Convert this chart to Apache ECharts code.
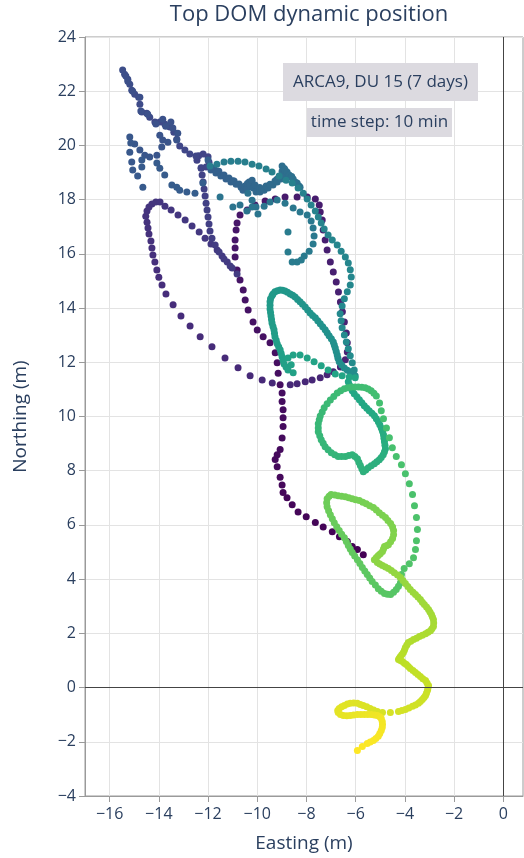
<!DOCTYPE html>
<html>
<head>
<meta charset="utf-8">
<script src="https://cdn.jsdelivr.net/npm/echarts@6/dist/echarts.min.js"></script>
<style>
  html, body { margin: 0; padding: 0; background: #ffffff; }
  #chart { width: 524px; height: 858px; }
</style>
</head>
<body>
<div id="chart"></div>
<script>
// Top DOM track, [easting, northing] in metres, in time order (one sample every 10 min)
const tailPts = [[-5.69,4.90],[-5.93,5.09],[-6.14,5.20],[-6.34,5.39],[-6.66,5.56],[-6.95,5.75],[-7.32,5.92],[-7.64,6.09],[-8.01,6.30],[-8.34,6.48],[-8.58,6.74],[-8.79,7.00],[-8.95,7.20],[-8.99,7.47],[-9.07,7.76],[-9.19,8.15],[-9.27,8.41],[-9.19,8.59],[-9.07,8.78],[-8.99,9.21],[-8.95,9.63],[-8.95,9.95],[-8.95,10.25],[-8.99,10.55],[-8.99,10.87],[-9.07,11.17],[-9.15,11.60]];
const darkLoop = [[-9.19,11.98],[-9.27,12.35],[-9.48,12.72],[-9.76,12.94],[-10.00,13.19],[-10.17,13.49],[-10.37,13.93],[-10.49,14.30],[-10.57,14.67],[-10.70,15.04],[-10.82,15.40],[-10.90,15.88],[-10.90,16.22],[-10.90,16.51],[-10.86,16.88],[-10.82,17.14],[-10.70,17.43],[-10.41,17.62],[-10.09,17.80],[-9.68,17.95],[-9.27,18.02],[-8.87,18.10],[-8.38,18.10],[-7.97,18.10],[-7.64,18.02],[-7.48,17.80],[-7.44,17.54],[-7.36,17.25],[-7.32,16.88],[-7.24,16.51],[-7.16,16.14],[-7.03,15.70],[-6.91,15.33],[-6.79,14.96],[-6.70,14.59],[-6.62,14.22],[-6.54,13.86],[-6.46,13.49],[-6.38,13.08],[-6.34,12.72],[-6.34,12.38],[-6.42,12.09],[-6.62,11.83],[-6.91,11.65],[-7.16,11.54],[-7.44,11.43],[-7.77,11.35],[-8.05,11.28],[-8.38,11.21],[-8.66,11.17],[-9.39,11.24]];
const westLoop = [[-9.80,11.35],[-10.29,11.50],[-10.78,11.80],[-11.31,12.16],[-11.84,12.57],[-12.32,12.94],[-12.73,13.34],[-13.10,13.71],[-13.42,14.12],[-13.71,14.52],[-13.87,14.85],[-14.00,15.14],[-14.08,15.40],[-14.16,15.70],[-14.24,15.96],[-14.28,16.22],[-14.32,16.47],[-14.40,16.73],[-14.44,16.95],[-14.48,17.17],[-14.53,17.39],[-14.48,17.58],[-14.40,17.73],[-14.28,17.84],[-14.12,17.91],[-13.95,17.91]];
const diagonal = [[-13.75,17.76],[-13.50,17.62],[-13.22,17.43],[-12.93,17.25],[-12.65,17.03],[-12.36,16.81],[-12.12,16.58],[-11.88,16.36],[-11.63,16.14],[-11.43,15.92],[-11.22,15.70],[-11.02,15.48],[-10.82,15.26]];
const climb = [[-11.10,15.55],[-11.35,15.81],[-11.55,16.07],[-11.71,16.33],[-11.84,16.58],[-11.92,16.84],[-11.96,17.10],[-12.00,17.36],[-12.04,17.62],[-12.08,17.87],[-12.12,18.13],[-12.16,18.39],[-12.20,18.65],[-12.24,18.91],[-12.28,19.16]];
const smallLoop = [[-12.45,19.45],[-12.38,19.62],[-12.20,19.68],[-12.00,19.58],[-11.96,19.38],[-12.08,19.20],[-12.28,19.18]];
const northCluster = [[-12.49,19.61],[-12.74,19.68],[-12.94,19.83],[-13.15,19.98],[-13.27,20.23],[-13.39,20.49],[-13.55,20.68],[-13.76,20.79],[-13.96,20.86],[-14.16,20.86],[-14.37,21.04],[-14.49,21.19],[-14.69,21.23],[-14.77,21.52],[-14.82,21.78],[-14.98,21.89],[-15.10,22.04],[-15.18,22.26],[-15.26,22.44],[-15.39,22.63],[-15.47,22.78],
  [-15.34,22.56],[-15.26,22.37],[-15.06,22.00],[-14.77,21.78],[-14.73,21.27],[-14.45,21.15],[-14.12,20.79],[-13.84,20.97],[-13.72,20.71],[-13.51,20.86],[-13.43,20.64],[-13.23,20.45],[-13.27,20.20],[-13.63,20.12],[-13.84,20.20],[-13.96,20.38],[-13.88,19.94],[-14.08,19.64],[-14.37,19.57],[-14.57,19.64],[-14.77,19.83],[-14.98,20.05],[-15.18,20.31],[-15.14,20.09],[-15.18,19.75],[-15.10,19.39],[-15.06,19.09],[-14.86,18.87],[-14.69,19.20],[-14.69,19.46],[-14.65,18.46],[-14.08,19.35],[-13.96,19.16],[-13.76,18.91],[-13.47,18.54],[-13.27,18.46],[-13.15,18.35],[-12.86,18.28],[-12.53,18.24],[-12.21,18.61],[-12.00,19.46]];
const zigzag = [[-11.88,19.09],[-11.76,19.16],[-11.68,18.98],[-11.60,19.05],[-11.56,19.05],[-11.48,18.87],[-11.35,18.91],[-11.27,18.76],[-11.15,18.80],[-11.07,18.65],[-11.00,18.70],[-10.94,18.69],[-10.86,18.57],[-10.74,18.58],[-10.66,18.46],[-10.58,18.35],[-10.50,18.50],[-10.42,18.43],[-10.40,18.60],[-10.33,18.65],[-10.29,18.54],[-10.21,18.72],[-10.17,18.43],[-10.09,18.54],[-10.05,18.28],[-9.97,18.35],[-9.90,18.45],[-9.89,18.28],[-9.80,18.39],[-9.72,18.35],[-9.64,18.50],[-9.56,18.43],[-9.48,18.57],[-9.36,18.54],[-9.28,18.69],[-9.20,18.75],[-9.19,18.65],[-9.11,18.83],[-9.03,18.76],[-8.99,19.05],[-8.91,18.91],[-8.99,19.24],[-8.90,19.15],[-8.87,19.09],[-8.79,19.02],[-8.70,18.91],[-8.62,18.83],[-8.60,18.85],[-8.54,18.76],[-8.46,18.65],[-8.38,18.61],[-8.30,18.50],[-8.26,18.46]];
const hook = [[-10.38,18.24],[-10.21,17.98],[-10.05,17.73],[-11.51,18.10],[-10.99,17.73],[-10.70,17.80],[-10.42,17.58],[-10.21,17.73],[-9.97,17.47],[-9.72,17.76],[-9.48,17.91],[-9.19,17.99],[-8.87,17.87],[-8.54,17.69],[-8.26,17.54],[-7.97,17.43],[-7.81,17.21],[-7.73,16.95],[-7.69,16.66],[-7.73,16.36],[-7.89,16.10],[-8.09,15.92],[-8.21,15.77],[-8.38,15.70],[-8.58,15.70],[-8.75,16.07],[-8.75,16.81]];
const arcTop = [[-11.92,19.24],[-11.64,19.31],[-11.35,19.39],[-11.07,19.42],[-10.78,19.42],[-10.50,19.39],[-10.21,19.31],[-9.93,19.24],[-9.64,19.13],[-9.40,19.02],[-9.11,18.87],[-8.83,18.72],[-8.58,18.61]];
const eastDescent = [[-8.34,18.43],[-8.13,18.24],[-7.97,18.02],[-7.81,17.80],[-7.64,17.58],[-7.52,17.36],[-7.40,17.14],[-7.28,16.92],[-7.12,16.70],[-6.95,16.51],[-6.75,16.33],[-6.59,16.10],[-6.42,15.88],[-6.30,15.66],[-6.22,15.41],[-6.18,15.15],[-6.22,14.85],[-6.34,14.60],[-6.46,14.34],[-6.55,14.08],[-6.63,13.79],[-6.59,13.53],[-6.55,13.27],[-6.46,13.01],[-6.38,12.75],[-6.30,12.50],[-6.22,12.24],[-6.14,11.98],[-6.06,11.72],[-6.02,11.50]];
const loopOne = [[-6.22,11.65],[-6.34,11.71],[-6.46,11.79],[-6.57,11.90],[-6.67,12.02],[-6.72,12.15],[-6.75,12.27],[-6.79,12.40],[-6.83,12.53],[-6.87,12.64],[-6.91,12.75],[-6.99,12.87],[-7.08,12.98],[-7.16,13.09],[-7.24,13.20],[-7.34,13.31],[-7.44,13.42],[-7.54,13.53],[-7.64,13.64],[-7.75,13.73],[-7.85,13.82],[-7.95,13.93],[-8.05,14.04],[-8.16,14.14],[-8.26,14.23],[-8.36,14.32],[-8.46,14.41],[-8.56,14.47],[-8.66,14.52],[-8.77,14.58],[-8.87,14.63],[-8.97,14.66],[-9.07,14.67],
  [-9.18,14.64],[-9.28,14.60],[-9.36,14.52],[-9.40,14.45],[-9.46,14.34],[-9.48,14.23],[-9.48,14.10],[-9.48,13.97],[-9.46,13.84],[-9.44,13.71],[-9.42,13.58],[-9.40,13.45],[-9.36,13.32],[-9.32,13.20],[-9.30,13.07],[-9.28,12.94],[-9.23,12.81],[-9.19,12.68],[-9.13,12.57],[-9.07,12.46],[-9.03,12.33],[-8.99,12.20],[-8.95,12.07],[-8.91,11.94],[-8.83,11.83],[-8.75,11.72],[-8.54,11.61],[-8.62,11.91],[-8.75,12.16],
  [-8.54,12.27],[-8.26,12.27],[-7.97,12.16],[-7.69,12.02],[-7.40,11.87],[-7.12,11.72],[-6.83,11.57],[-6.55,11.50],[-6.26,11.46],[-6.02,11.43]];
const loopTwo = [[-6.30,11.28],[-6.26,11.17],[-6.22,11.06],[-6.14,10.95],[-6.06,10.84],[-5.95,10.73],[-5.85,10.62],[-5.75,10.51],[-5.65,10.40],[-5.55,10.30],[-5.45,10.21],[-5.34,10.12],[-5.24,10.03],[-5.16,9.92],[-5.08,9.81],[-5.02,9.70],[-4.96,9.58],[-4.91,9.46],[-4.87,9.33],[-4.85,9.20],[-4.83,9.07],[-4.81,8.94],[-4.79,8.81],
  [-4.83,8.70],[-4.88,8.59],[-4.96,8.49],[-5.04,8.40],[-5.14,8.33],[-5.24,8.26],[-5.37,8.18],[-5.49,8.11],[-5.59,8.03],[-5.69,7.96],[-5.75,8.07],[-5.81,8.19],[-5.87,8.31],[-5.93,8.44],[-6.03,8.52],[-6.14,8.59],[-6.28,8.56],[-6.42,8.52],[-6.57,8.52],[-6.71,8.52],[-6.85,8.59],[-6.99,8.66],[-7.12,8.77],[-7.24,8.88],[-7.32,9.01],[-7.40,9.14],[-7.46,9.29],[-7.52,9.44],[-7.52,9.58],[-7.52,9.73],[-7.48,9.88],[-7.44,10.02],[-7.36,10.17],[-7.28,10.32],[-7.16,10.47],[-7.03,10.61],[-6.89,10.74],[-6.75,10.87],[-6.61,10.95],[-6.46,11.02],[-6.32,11.06],[-6.18,11.09],[-6.03,11.09],[-5.89,11.09],[-5.75,11.08],[-5.61,11.06],[-5.49,11.01],[-5.37,10.95],[-5.26,10.86],[-5.16,10.76]];
const eastDots = [[-5.03,10.50],[-4.96,10.21],[-4.87,9.92],[-4.75,9.58],[-4.63,9.22],[-4.51,8.85],[-4.35,8.52],[-4.14,8.22],[-3.98,7.89],[-3.82,7.52],[-3.69,7.12],[-3.61,6.71],[-3.53,6.27],[-3.49,5.83],[-3.53,5.42],[-3.57,5.09],[-3.65,4.79],[-3.82,4.57],[-4.03,4.39]];
const loopThree = [[-4.14,4.17],[-4.16,4.02],[-4.18,3.87],[-4.26,3.74],[-4.35,3.62],[-4.46,3.52],[-4.58,3.43],[-4.71,3.44],[-4.83,3.47],[-4.96,3.55],[-5.08,3.65],[-5.20,3.78],[-5.33,3.91],[-5.43,4.04],[-5.53,4.17],[-5.63,4.30],[-5.73,4.43],[-5.83,4.58],[-5.93,4.72],[-6.04,4.85],[-6.14,4.98],[-6.22,5.11],[-6.30,5.24],[-6.38,5.39],[-6.46,5.53],[-6.57,5.66],[-6.67,5.79],[-6.77,5.93],[-6.87,6.08],[-6.95,6.23],[-7.03,6.38],[-7.10,6.52],[-7.16,6.67],[-7.18,6.82],[-7.16,6.97],[-7.08,7.06],[-7.00,7.12],[-6.85,7.10],[-6.71,7.08],[-6.57,7.06],[-6.42,7.04],[-6.28,7.00],[-6.14,6.97],[-6.00,6.93],[-5.85,6.90],[-5.71,6.84],[-5.57,6.78],[-5.43,6.71],[-5.28,6.64],[-5.16,6.55],[-5.04,6.45],[-4.91,6.36],[-4.79,6.27],[-4.69,6.16],[-4.58,6.05],[-4.50,5.92],[-4.46,5.79],[-4.46,5.64],[-4.50,5.50],[-4.58,5.38],[-4.67,5.27],[-4.75,5.23],[-4.83,5.20],[-4.87,5.11],[-4.91,5.02],[-5.00,4.94],[-5.08,4.87],[-5.16,4.80],[-5.24,4.72]];
const southDescent = [[-5.12,4.61],[-5.02,4.56],[-4.91,4.50],[-4.79,4.45],[-4.67,4.39],[-4.55,4.32],[-4.43,4.24],[-4.30,4.15],[-4.18,4.06],[-4.08,3.95],[-3.98,3.84],[-3.88,3.73],[-3.78,3.62],[-3.67,3.52],[-3.57,3.43],[-3.47,3.34],[-3.37,3.25],[-3.29,3.15],[-3.21,3.06],[-3.12,2.97],[-3.04,2.88],[-2.98,2.79],[-2.92,2.70],[-2.88,2.60],[-2.84,2.51],[-2.83,2.38],[-2.84,2.25],[-2.90,2.17],[-2.96,2.10],[-3.06,2.04],[-3.16,1.99],[-3.29,1.93],[-3.41,1.88],[-3.53,1.82],[-3.65,1.77],[-3.76,1.71],[-3.86,1.66],[-3.92,1.57],[-3.98,1.48],[-4.02,1.38],[-4.06,1.29],[-4.12,1.22],[-4.18,1.15],[-4.22,1.09],[-4.26,1.04],[-4.18,1.00],[-4.10,0.96],[-4.02,0.90],[-3.94,0.85],[-3.86,0.78],[-3.78,0.70],[-3.67,0.63],[-3.57,0.56],[-3.47,0.48],[-3.37,0.41],[-3.27,0.33],[-3.16,0.26],[-3.10,0.17],[-3.04,0.08],[-3.06,-0.01],[-3.08,-0.10],[-3.12,-0.20],[-3.16,-0.29],[-3.22,-0.37],[-3.29,-0.44],[-3.37,-0.51],[-3.45,-0.58],[-3.57,-0.64],[-3.69,-0.69],[-3.84,-0.75],[-3.98,-0.81],[-4.12,-0.85],[-4.26,-0.88],[-4.59,-0.92],[-4.91,-0.92],[-5.12,-0.88]];
const finalLoop = [[-5.27,-0.83],[-5.41,-0.77],[-5.55,-0.71],[-5.69,-0.66],[-5.81,-0.62],[-5.93,-0.58],[-6.08,-0.57],[-6.22,-0.58],[-6.34,-0.61],[-6.46,-0.66],[-6.57,-0.71],[-6.67,-0.77],[-6.73,-0.85],[-6.71,-0.92],[-6.62,-0.99],[-6.50,-1.03],[-6.36,-1.04],[-6.22,-1.03],[-6.08,-1.01],[-5.93,-0.99],[-5.79,-0.99],[-5.65,-0.99],[-5.51,-0.99],[-5.37,-0.99],[-5.24,-1.01],[-5.12,-1.03],[-5.02,-1.08],[-4.96,-1.14],[-4.92,-1.25],[-4.91,-1.36],[-4.92,-1.47],[-4.96,-1.58],[-5.02,-1.69],[-5.08,-1.80],[-5.18,-1.88],[-5.28,-1.95],[-5.41,-2.01],[-5.53,-2.06],[-5.73,-2.17],[-5.93,-2.32]];

// Axis tick values
const xTicks = [-16, -14, -12, -10, -8, -6, -4, -2, 0];
const yTicks = [-4, -2, 0, 2, 4, 6, 8, 10, 12, 14, 16, 18, 20, 22, 24];

// Viridis colour stops for the time colouring
const viridis = ['#440154','#482475','#414487','#355f8d','#2a788e','#21918c','#22a884','#44bf70','#7ad151','#bddf26','#fde725'];

const track = [].concat(tailPts, darkLoop, westLoop, diagonal, climb, smallLoop, northCluster,
  zigzag, hook, arcTop, eastDescent, loopOne, loopTwo, eastDots, loopThree, southDescent, finalLoop);
// third value = sample number along the track, used for the colour scale
const points = track.map((p, i) => [p[0], p[1], i]);

const FONT = '"Open Sans", Verdana, sans-serif';
const INK = '#2a3f5f';
const minus = v => String(v).replace('-', '\u2212');

const chart = echarts.init(document.getElementById('chart'), null, { renderer: 'canvas' });
chart.setOption({
  animation: false,
  backgroundColor: '#ffffff',
  title: {
    text: 'Top DOM dynamic position',
    left: 304, top: -1, textAlign: 'center',
    textStyle: { fontFamily: FONT, fontSize: 22, fontWeight: 'normal', color: INK }
  },
  grid: { left: 85, top: 37, width: 438, height: 760, show: true, borderColor: '#9a9a9a', borderWidth: 1, backgroundColor: 'transparent' },
  xAxis: {
    type: 'value', min: -17, max: 0.8,
    name: 'Easting (m)', nameLocation: 'middle', nameGap: 38,
    nameTextStyle: { fontFamily: FONT, fontSize: 19, color: INK },
    axisLine: { show: true, onZero: false, lineStyle: { color: '#9a9a9a' } },
    axisTick: { show: true, length: 6, customValues: xTicks, lineStyle: { color: '#9a9a9a' } },
    axisLabel: { customValues: xTicks, formatter: minus, fontFamily: FONT, fontSize: 16, color: INK, margin: 10 },
    splitLine: { show: true, lineStyle: { color: '#e3e3e3', width: 1 } }
  },
  yAxis: {
    type: 'value', min: -4, max: 24, interval: 2,
    name: 'Northing (m)', nameLocation: 'middle', nameGap: 55,
    nameTextStyle: { fontFamily: FONT, fontSize: 19, color: INK },
    axisLine: { show: true, onZero: false, lineStyle: { color: '#9a9a9a' } },
    axisTick: { show: true, length: 6, lineStyle: { color: '#9a9a9a' } },
    axisLabel: { formatter: minus, fontFamily: FONT, fontSize: 16, color: INK, margin: 9 },
    splitLine: { show: true, lineStyle: { color: '#e3e3e3', width: 1 } }
  },
  visualMap: {
    show: false, type: 'continuous', seriesIndex: 1, dimension: 2,
    min: 0, max: points.length - 1, inRange: { color: viridis }
  },
  series: [
    {
      // zero lines of both axes
      type: 'line', data: [], silent: true, z: 1,
      markLine: {
        silent: true, symbol: ['none', 'none'], label: { show: false },
        lineStyle: { color: '#444444', width: 1, type: 'solid' },
        data: [{ xAxis: 0 }, { yAxis: 0 }]
      }
    },
    {
      type: 'scatter', data: points, symbol: 'circle', symbolSize: 7, z: 3,
      itemStyle: { opacity: 1 }
    }
  ],
  graphic: [
    { type: 'rect', z: 10, shape: { x: 283, y: 63, width: 195, height: 38 }, style: { fill: '#dcdae0' } },
    { type: 'text', z: 11, x: 380.5, y: 82, style: { text: 'ARCA9, DU 15 (7 days)', font: '17px ' + FONT, fill: INK, textAlign: 'center', textVerticalAlign: 'middle' } },
    { type: 'rect', z: 10, shape: { x: 307, y: 108, width: 145, height: 29 }, style: { fill: '#dcdae0' } },
    { type: 'text', z: 11, x: 379.5, y: 122.5, style: { text: 'time step: 10 min', font: '17px ' + FONT, fill: INK, textAlign: 'center', textVerticalAlign: 'middle' } }
  ]
});
</script>
</body>
</html>
